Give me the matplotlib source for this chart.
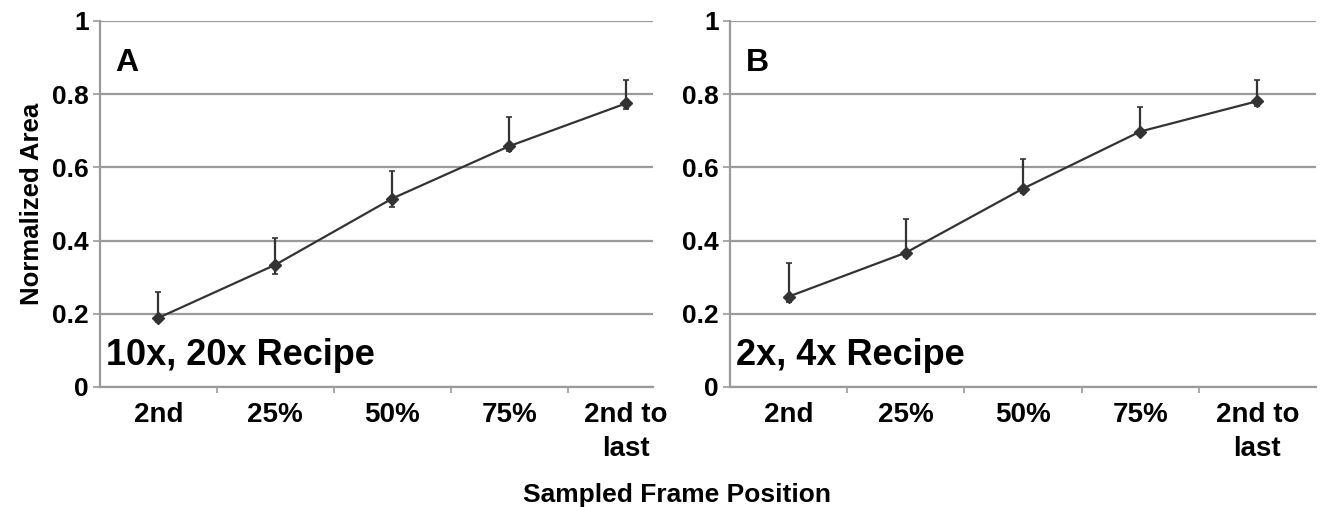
import matplotlib
matplotlib.use("Agg")
import matplotlib.pyplot as plt
import numpy as np

plt.rcParams['font.family'] = ['Liberation Sans', 'DejaVu Sans']
plt.rcParams['font.weight'] = 'bold'

categories = ["2nd", "25%", "50%", "75%", "2nd to\nlast"]

# panel A: 10x, 20x recipe
mean_a = [0.189, 0.334, 0.515, 0.658, 0.775]
err_up_a = [0.071, 0.074, 0.074, 0.079, 0.064]
err_lo_a = [0.012, 0.025, 0.022, 0.013, 0.016]

# panel B: 2x, 4x recipe
mean_b = [0.247, 0.367, 0.542, 0.698, 0.781]
err_up_b = [0.092, 0.091, 0.082, 0.066, 0.059]
err_lo_b = [0.014, 0.012, 0.012, 0.010, 0.012]

W, H = 1323, 507
fig = plt.figure(figsize=(W / 100, H / 100), dpi=100)

ax_a = fig.add_axes([100 / W, 120 / H, 553 / W, 366 / H])
ax_b = fig.add_axes([730 / W, 120 / H, 586 / W, 366 / H])

line_col = "#333333"
grid_col = "#9a9a9a"


def draw_panel(ax, mean, lo, up, letter, recipe, xmax):
    x = np.arange(len(categories))
    ax.set_xlim(-0.5, xmax)
    ax.set_ylim(0, 1)
    ax.set_yticks([0, 0.2, 0.4, 0.6, 0.8, 1.0])
    ax.set_yticklabels(["0", "0.2", "0.4", "0.6", "0.8", "1"], fontsize=19)
    ax.yaxis.grid(True, color=grid_col, lw=1.6)
    ax.set_axisbelow(True)

    ax.errorbar(x, mean, yerr=[lo, up], fmt="none", ecolor=line_col,
                elinewidth=1.6, capsize=2, capthick=1.2, zorder=3)
    ax.plot(x, mean, color=line_col, lw=1.6, marker="D", ms=6.5,
            mfc=line_col, mec=line_col, zorder=4)

    ax.set_xticks(x)
    ax.set_xticklabels(categories, fontsize=20, linespacing=1.4)
    ax.set_xticks(np.arange(len(categories) - 1) + 0.5, minor=True)
    ax.tick_params(axis="x", which="major", length=0, pad=11)
    ax.tick_params(axis="x", which="minor", length=4, color=grid_col, width=1.2)
    ax.tick_params(axis="y", length=5, color=grid_col, width=1.2, pad=3)

    for side in ["top", "right"]:
        ax.spines[side].set_visible(False)
    for side in ["left", "bottom"]:
        ax.spines[side].set_color(grid_col)
        ax.spines[side].set_linewidth(1.6)

    ax.text(0.027, 0.885, letter, transform=ax.transAxes, fontsize=23,
            fontweight="bold", va="center", ha="left")
    ax.text(0.01, 0.085, recipe, transform=ax.transAxes, fontsize=26,
            fontweight="bold", va="center", ha="left")


draw_panel(ax_a, mean_a, err_lo_a, err_up_a, "A", "10x, 20x Recipe", 4.23)
draw_panel(ax_b, mean_b, err_lo_b, err_up_b, "B", "2x, 4x Recipe", 4.5)

ax_a.set_ylabel("Normalized Area", fontsize=18.5, fontweight="bold", labelpad=6)
fig.text(677 / W, 1 - 495 / H, "Sampled Frame Position", fontsize=19,
         fontweight="bold", ha="center", va="center")

fig.savefig("out.png", dpi=100)
